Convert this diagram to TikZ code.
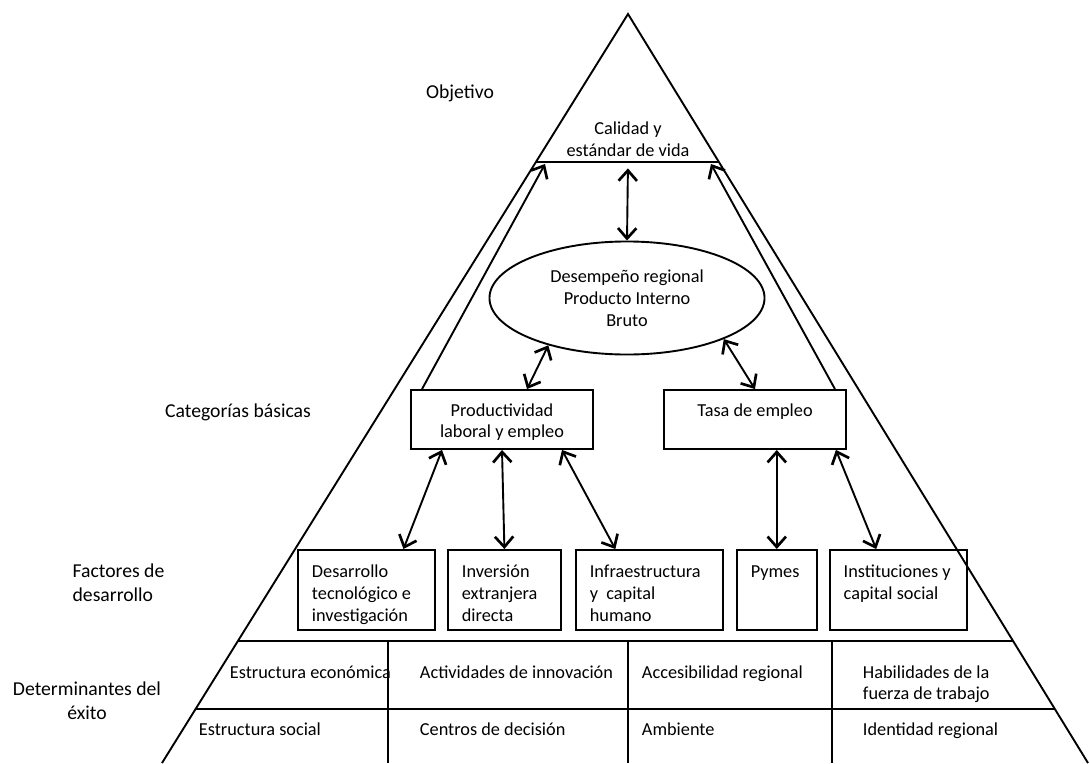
\documentclass[tikz,border=0pt]{standalone}
\usepackage{fontspec}
\setmainfont{Carlito}
\usetikzlibrary{positioning}
\usetikzlibrary{shapes.geometric}
\usetikzlibrary{arrows.meta}
\usetikzlibrary{calc}

\begin{document}
\begin{tikzpicture}
[
x=0.025cm, y=-0.025cm,
line width=1.35pt,
>={Straight Barb[length=2.6mm,width=4.6mm,line width=1.9pt]},
every node/.style={font=\fontsize{13}{15.5}\selectfont},
cat-box/.style={rectangle,draw,text width=38.5mm,execute at begin node={\centering\spaceskip=0pt\xspaceskip=0pt},inner xsep=3.5mm,inner ysep=0mm,text height=6.5mm,text depth=8.25mm},
fac-box/.style={rectangle,draw,execute at begin node={\raggedright\spaceskip=0pt\xspaceskip=0pt},inner xsep=3.5mm,inner ysep=0mm,text height=7mm,text depth=13mm},
pib-ell/.style={ellipse,draw,minimum width=68.75mm,minimum height=28.25mm,inner sep=0mm,align=center},
det-text/.style={anchor=base west,inner sep=0pt},
text-a/.style={black,font=\fontsize{14}{17}\selectfont},
]
\useasboundingbox (0,0) rectangle (1090,763);

% piramide
\coordinate (apex) at (628,14);
\coordinate (bl)   at (162,763);
\coordinate (br)   at (1088,763);
\draw (bl) -- (apex) -- (br);

% objetivo
\coordinate (calL0) at ($(apex)!0.1976!(bl)$);
\coordinate (calR0) at ($(apex)!0.1976!(br)$);
\draw (calL0) -- (calR0);
\node (cal) [align=center] at (628,139)                  {Calidad y\\estándar de vida};
\coordinate (calmid) at (628,162);
\coordinate (calL)   at (545,164);
\coordinate (calR)   at (711,164);

% categorias basicas
\node (pib)  [pib-ell] at (627,298)                      {Desempeño regional\\Producto Interno\\Bruto};
\node (prod) [cat-box] at (502,419.5)                    {Productividad\\laboral y empleo};
\node (tasa) [cat-box, right = 17.25mm of prod]          {Tasa de empleo};

% factores de desarrollo
\node (f1) [fac-box, text width=27.25mm, anchor=north west] at (297,549) {Desarrollo\\tecnológico e\\investigación};
\node (f2) [fac-box, text width=21.25mm, right = 2.75mm of f1] {Inversión\\extranjera\\directa};
\node (f3) [fac-box, text width=29.75mm, right = 3.25mm of f2] {Infraestructura\\y~ capital\\humano};
\node (f4) [fac-box, text width=13mm,    right = 3mm of f3]    {Pymes};
\node (f5) [fac-box, text width=27.25mm, right = 2.75mm of f4] {Instituciones y\\capital social};

% determinantes
\coordinate (t1L) at ($(apex)!0.8371!(bl)$);
\coordinate (t1R) at ($(apex)!0.8371!(br)$);
\coordinate (t2L) at ($(apex)!0.9279!(bl)$);
\coordinate (t2R) at ($(apex)!0.9279!(br)$);
\draw (t1L) -- (t1R);
\draw (t2L) -- (t2R);
\draw (388,641) -- (388,763);
\draw (628,641) -- (628,763);
\draw (832,641) -- (832,763);
\node (d11) [det-text] at (229,678) {Estructura económica};
\node (d12) [det-text] at (419,678) {Actividades de innovación};
\node (d13) [det-text] at (641,678) {Accesibilidad regional};
\node (d14) [det-text, text width=45mm, execute at begin node={\raggedright\spaceskip=0pt\xspaceskip=0pt}] at (862,678) {Habilidades de la\\fuerza de trabajo};
\node (d21) [det-text] at (198,735) {Estructura social};
\node (d22) [det-text] at (419,735) {Centros de decisión};
\node (d23) [det-text] at (641,735) {Ambiente};
\node (d24) [det-text] at (862,735) {Identidad regional};

% etiquetas
\node (lobj) [text-a] at (460,93)                        {Objetivo};
\node (lcat) [text-a] at (238,412)                       {Categorías básicas};
\node (lfac) [text-a, align=left, anchor=west] at (67,583) {Factores de\\desarrollo};
\node (ldet) [text-a, align=center] at (87,701)          {Determinantes del\\éxito};

% flechas
\draw [<->, shorten <=1.6mm] (calmid) -- (pib.north);
\draw [<->] (pib.211) -- ($(prod.north)+(25,0)$);
\draw [<->] (pib.-23) -- (tasa.north);
\draw [<->] ($(prod.south)+(-60,0)$) -- ($(f1.north)+(37,0)$);
\draw [<->] (prod.south) -- (f2.north);
\draw [<->] ($(prod.south)+(60,0)$) -- ($(f3.north)+(-34,0)$);
\draw [<->] (f4.north |- tasa.south) -- (f4.north);
\draw [<->] ($(tasa.south east)+(-11,0)$) -- ($(f5.north)+(-22,0)$);
\draw [->] ($(prod.north west)+(12,0)$) -- (calL);
\draw [->] ($(tasa.north east)+(-12,0)$) -- (calR);
\end{tikzpicture}
\end{document}
